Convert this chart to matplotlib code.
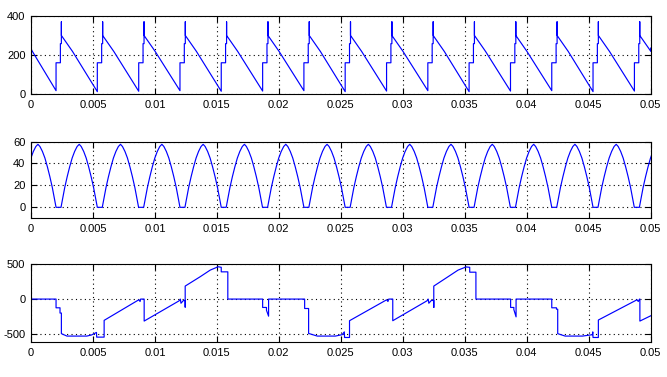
import numpy as np
import matplotlib
matplotlib.use("Agg")
import matplotlib.pyplot as plt

plt.rcParams['font.family'] = ['Liberation Sans', 'DejaVu Sans']
plt.rcParams['font.size'] = 8

# ---- data (times in ms) ----

# top trace: one commutation cycle per minimum
top_min_t = [2.02, 5.35, 8.69, 12.02, 15.35, 18.69, 22.02, 25.35,
             28.69, 32.02, 35.35, 38.69, 42.02, 45.35, 48.69]
top_min_v = [17, 12, 14, 17, 14, 15, 17, 12, 15, 17, 12, 15, 17, 12, 15]
top_cycle_dt = [0.0, 0.35, 0.35, 0.43, 0.43, 0.43, 1.33]
top_cycle_v = [160, 160, 258, 258, 370, 300, 218]
top_start = (0.0, 230)
top_end = (50.0, 235)

# middle trace: rectified humps
mid_start_t = [-0.91, 2.42, 5.75, 9.09, 12.42, 15.75, 19.09, 22.42,
               25.75, 29.09, 32.42, 35.75, 39.09, 42.42, 45.75, 49.09]
mid_hump_dt = [0, 0.15, 0.3, 0.5, 0.7, 0.9, 1.1, 1.3, 1.47, 1.63, 1.83,
               2.03, 2.23, 2.43, 2.63, 2.78, 2.93]
mid_hump_v = [0, 9, 18, 28, 37, 45, 51, 55.5, 57.5, 55.5, 51, 45, 37,
              28, 18, 9, 0]

# bottom trace
bot_t = [0.0, 2.02, 2.02, 2.34, 2.34, 2.45, 2.45, 2.9, 4.5, 4.87, 5.28, 5.3,
         5.9, 5.9, 8.7, 8.8, 8.85, 9.13, 9.13, 11.95, 12.05, 12.1, 12.3,
         12.44, 12.44, 12.44, 13.65, 14.46, 15.1, 15.35, 15.35, 15.88, 15.88,
         18.69, 18.69, 19.0, 19.0, 19.17, 19.17,
         22.08, 22.08, 22.4, 22.4, 23.1, 24.56, 25.1, 25.28, 25.3, 25.7, 25.7,
         28.7, 28.8, 28.87, 29.19, 29.19, 31.95, 32.05, 32.1, 32.3,
         32.5, 32.5, 32.5, 33.65, 34.46, 35.1, 35.4, 35.4, 35.9, 35.9,
         38.7, 38.7, 38.96, 38.96, 39.14, 39.14,
         42.02, 42.02, 42.4, 42.4, 42.5, 42.5, 43.1, 44.5, 45.3, 45.33, 45.35,
         45.78, 45.78, 48.9, 49.0, 49.1, 49.13, 49.13, 50.0]
bot_v = [0, 0, -125, -125, -200, -200, -495, -530, -530, -515, -478, -545,
         -545, -305, -10, -35, 0, 0, -315, -25, 0, -60, -20,
         -20, -115, 186, 320, 415, 463, 455, 390, 390, 0,
         0, -120, -120, -160, -245, 0,
         0, -135, -135, -492, -530, -530, -510, -470, -550, -550, -310,
         -10, -35, 0, 0, -310, -25, 0, -60, -20,
         -20, -120, 186, 320, 415, 460, 455, 385, 385, 0,
         0, -120, -120, -150, -255, 0,
         0, -125, -125, -145, -145, -495, -530, -530, -510, -470, -550,
         -550, -300, -10, -35, 0, 0, -315, -240]


def build_top():
    t = [top_start[0]]
    v = [top_start[1]]
    for tm, vm in zip(top_min_t, top_min_v):
        t.append(tm)
        v.append(vm)
        t += [tm + d for d in top_cycle_dt]
        v += top_cycle_v
    t.append(top_end[0])
    v.append(top_end[1])
    return np.array(t) / 1000.0, np.array(v)


def build_mid():
    t, v = [], []
    for ts in mid_start_t:
        t += [ts + d for d in mid_hump_dt]
        v += mid_hump_v
    return np.array(t) / 1000.0, np.array(v)


def style(ax, ylim, yticks):
    ax.set_xlim(0, 0.05)
    ax.set_ylim(*ylim)
    ax.set_yticks(yticks)
    ax.set_yticklabels([str(y) for y in yticks])
    xt = np.arange(0, 0.0501, 0.005)
    ax.set_xticks(xt)
    ax.set_xticklabels(["0", "0.005", "0.01", "0.015", "0.02", "0.025",
                        "0.03", "0.035", "0.04", "0.045", "0.05"])
    ax.tick_params(direction='in', top=True, right=True, length=4,
                   width=0.8, pad=4, labelsize=8)
    ax.grid(True, color='black', linestyle=(0, (1, 3)), linewidth=0.8)
    for s in ax.spines.values():
        s.set_linewidth(0.8)


fig = plt.figure(figsize=(6.67, 3.77), dpi=100)
fig.patch.set_facecolor('white')

ax1 = fig.add_axes([0.0465, 0.7507, 0.929, 0.207])
ax2 = fig.add_axes([0.0465, 0.4210, 0.929, 0.2035])
ax3 = fig.add_axes([0.0465, 0.0928, 0.929, 0.2065])

t1, v1 = build_top()
ax1.plot(t1, v1, color='blue', linewidth=0.85)
style(ax1, (0, 400), [0, 200, 400])

t2, v2 = build_mid()
ax2.plot(t2, v2, color='blue', linewidth=0.85)
style(ax2, (-10, 60), [0, 20, 40, 60])

ax3.plot(np.array(bot_t) / 1000.0, bot_v, color='blue', linewidth=0.85)
style(ax3, (-615, 500), [-500, 0, 500])

fig.savefig("out.png", dpi=100)
